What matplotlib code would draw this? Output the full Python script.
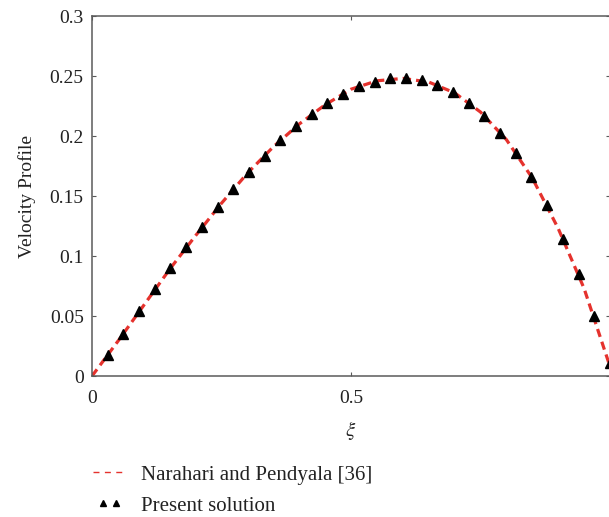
import numpy as np
import matplotlib.pyplot as plt
from matplotlib.lines import Line2D
from matplotlib.legend_handler import HandlerLine2D

# Narahari and Pendyala [36] (dashed reference curve)
xi_ref = [0.0, 0.05, 0.10, 0.15, 0.20, 0.25, 0.30, 0.35, 0.40, 0.45, 0.50,
          0.55, 0.60, 0.65, 0.70, 0.75, 0.80, 0.85, 0.90, 0.95, 1.0]
u_ref = [0.0, 0.029, 0.059, 0.089, 0.117, 0.144, 0.169, 0.191, 0.210, 0.226, 0.239,
         0.246, 0.248, 0.245, 0.236, 0.220, 0.197, 0.165, 0.123, 0.073, 0.008]

# present solution (triangles), 33 points
xi_pts = [k / 33 for k in range(1, 34)]
u_pts = [0.0171, 0.0352, 0.0538, 0.0723, 0.0898, 0.1075, 0.1239, 0.1406, 0.1557,
         0.1704, 0.1836, 0.1969, 0.2083, 0.2186, 0.2275, 0.2354, 0.2417, 0.2450,
         0.2481, 0.2481, 0.2464, 0.2429, 0.2369, 0.2279, 0.2169, 0.2029, 0.1856,
         0.1658, 0.1425, 0.1144, 0.0848, 0.0498, 0.0108]

xticks = [0, 0.5]
xticklabels = ['0', '0.5']
yticks = [0, 0.05, 0.1, 0.15, 0.2, 0.25, 0.3]
yticklabels = ['0', '0.05', '0.1', '0.15', '0.2', '0.25', '0.3']

plt.rcParams['font.family'] = ['Liberation Serif', 'DejaVu Serif']
plt.rcParams['mathtext.fontset'] = 'stix'

red = '#e5322d'
grey = '#5a5a5a'

fig = plt.figure(figsize=(6.09, 5.17), dpi=100)
ax = fig.add_axes([0.1511, 0.2727, 0.8505, 0.6963])

ax.plot(xi_ref, u_ref, color=red, lw=2.3, dashes=(2.6, 1.6), zorder=2)
ax.plot(xi_pts, u_pts, '^', color='black', ms=7, zorder=3)

ax.set_xlim(0, 1)
ax.set_ylim(0, 0.3)
ax.set_xticks(xticks)
ax.set_xticklabels(xticklabels)
ax.set_yticks(yticks)
ax.set_yticklabels(yticklabels)
ax.tick_params(direction='in', length=3, width=0.8, color=grey, labelsize=14,
               labelcolor='#222222', top=True, right=True, pad=6)
ax.tick_params(axis='x', pad=10)
for s in ax.spines.values():
    s.set_color(grey)
    s.set_linewidth(1.1)

ax.set_ylabel('Velocity Profile', fontsize=14, color='#222222', labelpad=10)
ax.set_xlabel(r'$\xi$', fontsize=15, color='#222222', labelpad=9)

h_ref = Line2D([], [], color=red, lw=1.0, dashes=(4.3, 3.9))
h_pts = Line2D([], [], ls='none', marker='^', color='black', ms=4.5)
fig.legend([h_ref, h_pts], ['Narahari and Pendyala [36]', 'Present solution'],
           loc='upper left', bbox_to_anchor=(93 / 609, 1 - 465 / 517),
           bbox_transform=fig.transFigure, frameon=False, fontsize=15,
           handlelength=1.6, handletextpad=0.7, labelspacing=0.55,
           borderpad=0, borderaxespad=0, labelcolor='#222222',
           handler_map={h_pts: HandlerLine2D(numpoints=2, marker_pad=0.48)})

fig.savefig('out.png', dpi=100)
